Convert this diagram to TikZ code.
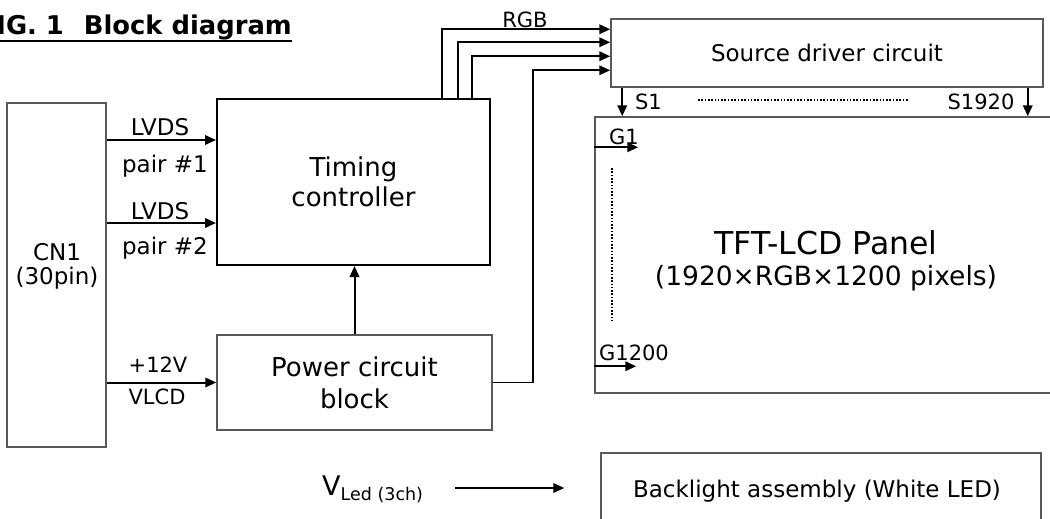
\documentclass[tikz,border=0pt]{standalone}
\usepackage{fontspec}
\setmainfont{DejaVu Sans}
\usetikzlibrary{arrows.meta, positioning}

\begin{document}
\begin{tikzpicture}[x=1pt, y=-1pt,
    box/.style={draw=black!65, line width=1.5pt, inner sep=0pt, align=center},
    sig/.style={line width=2pt, -{Triangle[length=11pt,width=9.5pt]}},
    dots/.style={line width=1.7pt, dash pattern=on 1.6pt off 1.7pt},
    big/.style={font=\fontsize{26}{30}\selectfont},
    mid/.style={font=\fontsize{23}{24}\selectfont},
    small/.style={font=\fontsize{21}{24}\selectfont}]

\useasboundingbox (0,0) rectangle (1050,519);

% title
\node[anchor=base east, inner sep=0pt, font=\fontsize{25.8}{30}\selectfont\bfseries] (title) at (292,35) {FIG.~1\hspace{20pt}Block diagram};
\draw[line width=1.8pt] ([yshift=-6pt]title.base west) -- ([yshift=-6pt]title.base east);

% blocks
\node[box, minimum width=99pt, minimum height=344pt] (cn1) at (56.5,275) {};
\node[mid, align=center] (cn1txt) at (57,266) {CN1\\(30pin)};

\node[box, draw=black, line width=2pt, big, minimum width=273pt, minimum height=166pt] (tc) at (353.5,182) {Timing\\controller};

\node[box, font=\fontsize{26}{32}\selectfont, minimum width=275pt, minimum height=95pt] (pw) at (354.5,382.5) {Power circuit\\block};

\node[box, mid, minimum width=432pt, minimum height=68pt] (sd) at (827,53) {Source driver circuit};

\node[box, minimum width=470pt, minimum height=276pt] (pn) at (830,255) {};
\node[font=\fontsize{31.5}{35}\selectfont] (pnl) at (826,243) {TFT-LCD Panel};
\node[font=\fontsize{26.5}{30}\selectfont] (pnr) at (826,278) {(1920×RGB×1200 pixels)};

\node[box, minimum width=440pt, minimum height=70pt] (bl) at (821,488) {};
\node[mid] (bltxt) at (817,491) {Backlight assembly (White LED)};

% labels
\node[mid] (lv1) at (160,127) {LVDS};
\node[mid] (pr1) at (165,166) {pair \#1};
\node[mid] (lv2) at (160,211) {LVDS};
\node[mid] (pr2) at (165,248) {pair \#2};
\node[small] (v12) at (158,365) {+12V};
\node[small] (vlcd) at (157,397) {VLCD};
\node[small] (rgb) at (525,20) {RGB};
\node[small] (s1l) at (648.5,102) {S1};
\node[small] (s2l) at (981,102) {S1920};
\node[small] (g1l) at (624,137) {G1};
\node[small] (g2l) at (634,353) {G1200};
\node[anchor=base west, inner sep=0pt] (vl) at (322,495)
  {\fontsize{27}{30}\selectfont V\raisebox{-5pt}{\fontsize{17.5}{20}\selectfont Led (3ch)}};

% connections
\coordinate (a1) at ([yshift=-42pt]tc.north west);
\coordinate (a2) at ([yshift=-125pt]tc.north west);
\draw[sig] (cn1.east |- a1) -- (a1);
\draw[sig] (cn1.east |- a2) -- (a2);
\draw[sig] (cn1.east |- pw.west) -- (pw.west);
\draw[sig] (pw.north) -- (pw.north |- tc.south);

\foreach \dx/\dy in {88.5/11, 104.5/24, 118.5/38}
  \draw[sig] ([xshift=\dx pt]tc.north) |- ([yshift=-\dy pt]sd.north west);
\draw[sig, line width=1.5pt] (pw.east) -- ++(40,0) |- ([yshift=-52pt]sd.north west);

\coordinate (s1) at ([xshift=12pt]sd.south west);
\coordinate (s2) at ([xshift=-16pt]sd.south east);
\draw[sig] (s1) -- (s1 |- pn.north);
\draw[sig] (s2) -- (s2 |- pn.north);
\draw[dots] (698,100) -- (908,100);

\coordinate (g1) at ([yshift=-31pt]pn.north west);
\coordinate (g1e) at ([xshift=44pt]g1);
\coordinate (g2) at ([yshift=-250pt]pn.north west);
\coordinate (g2e) at ([xshift=42pt]g2);
\draw[sig] (g1) -- (g1e);
\draw[sig] (g2) -- (g2e);
\draw[dots] (612,168) -- (612,323);

\path (vl.east) ++(32,0) coordinate (v0);
\draw[sig] (v0 |- bl.west) -- ([xshift=-36pt]bl.west);

\end{tikzpicture}
\end{document}
